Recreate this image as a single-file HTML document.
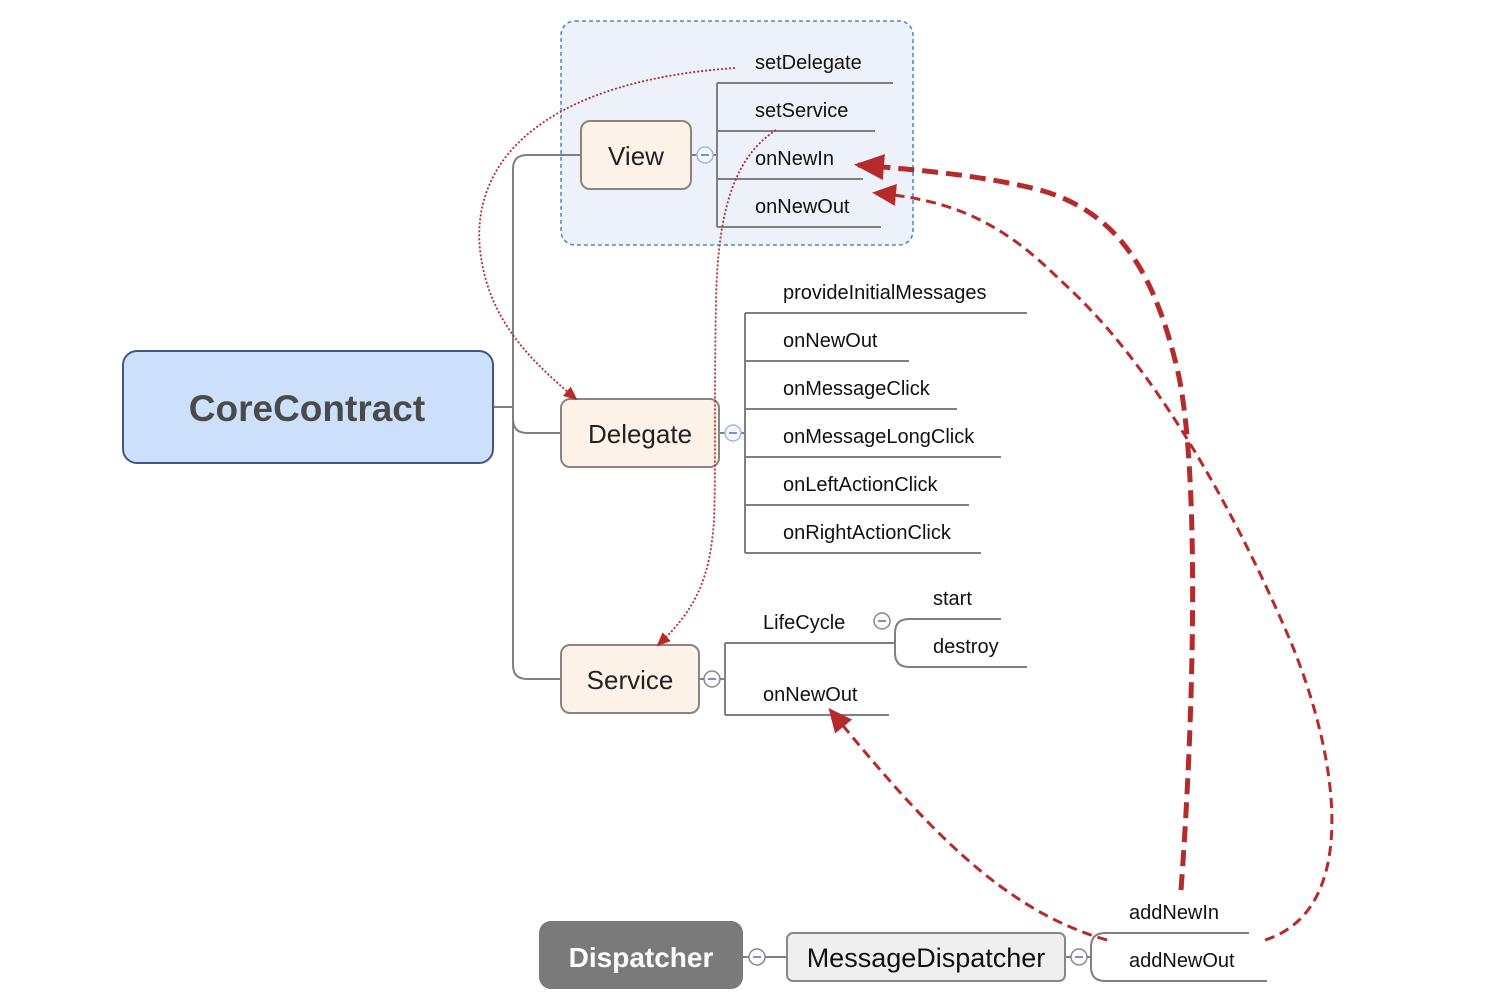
<!DOCTYPE html>
<html><head><meta charset="utf-8"><style>
html,body{margin:0;padding:0;background:#fff;}
svg{display:block;}
text{font-family:"Liberation Sans","DejaVu Sans",sans-serif;fill:#111;}
</style></head><body>
<svg width="1508" height="1008" viewBox="0 0 1508 1008" xmlns="http://www.w3.org/2000/svg">
<defs>
<marker id="ah" markerWidth="14" markerHeight="12" refX="12" refY="6" orient="auto" markerUnits="userSpaceOnUse" viewBox="0 0 14 12"><path d="M0,0 L14,6 L0,12 z" fill="#b52a2a"/></marker>
<marker id="ahb" markerWidth="30" markerHeight="26" refX="26" refY="13" orient="auto" markerUnits="userSpaceOnUse" viewBox="0 0 30 26"><path d="M0,0 L30,13 L0,26 z" fill="#b52a2a"/></marker>
<marker id="ahm" markerWidth="24" markerHeight="22" refX="20" refY="11" orient="auto" markerUnits="userSpaceOnUse" viewBox="0 0 24 22"><path d="M0,0 L24,11 L0,22 z" fill="#b52a2a"/></marker>
</defs>
<rect x="561" y="21" width="352" height="224" rx="14" fill="#edf2fa" stroke="#4a86c8" stroke-width="1.5" stroke-dasharray="4,3"/>
<g fill="none" stroke="#808080" stroke-width="2">
<path d="M493,407 H513"/>
<path d="M581,155 H527 Q513,155 513,169 V665 Q513,679 527,679 H561"/>
<path d="M513,419 Q513,433 527,433 H561"/>
<path d="M691,155 H697"/>
<path d="M713,155 H717"/>
<path d="M717,83 V227"/>
<path d="M717,83 H893 M717,131 H875 M717,179 H863 M717,227 H881"/>
<path d="M719,433 H725 M741,433 H745"/>
<path d="M745,313 V553"/>
<path d="M745,313 H1027 M745,361 H909 M745,409 H957 M745,457 H1001 M745,505 H969 M745,553 H981"/>
<path d="M699,679 H704 M720,679 H725"/>
<path d="M725,643 V715"/>
<path d="M725,643 H895 M725,715 H889"/>
<path d="M895,633 Q895,619 909,619 H1001"/>
<path d="M895,633 V653 Q895,667 909,667 H1027"/>
<path d="M743,957 H749 M765,957 H787"/>
<path d="M1065,957 H1071 M1087,957 H1091"/>
<path d="M1249,933 H1105 Q1091,933 1091,947 V967 Q1091,981 1105,981 H1267"/>
</g>
<g fill="#fff" stroke-width="1.5">
<circle cx="705" cy="155" r="8" stroke="#9db8e6" fill="#f4f7fd"/>
<circle cx="733" cy="433" r="8" stroke="#9db8e6" fill="#f4f7fd"/>
<circle cx="712" cy="679" r="8" stroke="#888"/>
<circle cx="882" cy="621" r="8" stroke="#888"/>
<circle cx="757" cy="957" r="8" stroke="#888"/>
<circle cx="1079" cy="957" r="8" stroke="#888"/>
</g>
<g stroke="#7a8fc4" stroke-width="2">
<path d="M701,155 H709 M729,433 H737 M708,679 H716 M878,621 H886 M753,957 H761 M1075,957 H1083"/>
</g>
<rect x="123" y="351" width="370" height="112" rx="14" fill="#cce0fb" stroke="#3f5783" stroke-width="2"/>
<text x="307" y="421" font-size="37" font-weight="bold" text-anchor="middle" style="fill:#4a4a4a">CoreContract</text>
<rect x="581" y="121" width="110" height="68" rx="9" fill="#fdf2e8" stroke="#8a8580" stroke-width="2"/>
<text x="636" y="165" font-size="26" text-anchor="middle" style="fill:#222">View</text>
<rect x="561" y="399" width="158" height="68" rx="9" fill="#fdf2e8" stroke="#8a8580" stroke-width="2"/>
<text x="640" y="443" font-size="26" text-anchor="middle" style="fill:#222">Delegate</text>
<rect x="561" y="645" width="138" height="68" rx="9" fill="#fdf2e8" stroke="#8a8580" stroke-width="2"/>
<text x="630" y="689" font-size="26" text-anchor="middle" style="fill:#222">Service</text>
<rect x="539" y="921" width="204" height="68" rx="12" fill="#7a7a7a"/>
<text x="641" y="967" font-size="28" font-weight="bold" text-anchor="middle" style="fill:#fff">Dispatcher</text>
<rect x="787" y="933" width="278" height="48" rx="6" fill="#efefef" stroke="#888" stroke-width="2"/>
<text x="926" y="967" font-size="27" text-anchor="middle" style="fill:#111">MessageDispatcher</text>
<g font-size="20">
<text x="755" y="69">setDelegate</text>
<text x="755" y="117">setService</text>
<text x="755" y="165">onNewIn</text>
<text x="755" y="213">onNewOut</text>
<text x="783" y="299">provideInitialMessages</text>
<text x="783" y="347">onNewOut</text>
<text x="783" y="395">onMessageClick</text>
<text x="783" y="443">onMessageLongClick</text>
<text x="783" y="491">onLeftActionClick</text>
<text x="783" y="539">onRightActionClick</text>
<text x="763" y="629">LifeCycle</text>
<text x="763" y="701">onNewOut</text>
<text x="933" y="605">start</text>
<text x="933" y="653">destroy</text>
<text x="1129" y="919">addNewIn</text>
<text x="1129" y="967">addNewOut</text>
</g>
<g fill="none" stroke="#b52a2a">
<path d="M735,68 C560,80 470,150 480,250 C488,320 530,360 576,399" stroke-width="1.8" stroke-dasharray="2,2" marker-end="url(#ah)"/>
<path d="M776,130 C730,160 718,220 716,300 C714,400 716,470 714,520 C710,580 695,610 658,645" stroke-width="1.8" stroke-dasharray="2,2" marker-end="url(#ah)"/>
<path d="M1181,890 C1195,700 1200,450 1175,360 C1150,260 1110,210 1040,190 C980,175 920,170 858,165" stroke-width="5" stroke-dasharray="16,8" marker-end="url(#ahb)"/>
<path d="M1265,940 C1360,910 1340,760 1290,640 C1230,500 1150,360 1060,280 C1000,220 950,200 876,193" stroke-width="3" stroke-dasharray="10,6" marker-end="url(#ahm)"/>
<path d="M1107,940 C1000,910 920,820 831,711" stroke-width="3" stroke-dasharray="10,6" marker-end="url(#ahm)"/>
</g>
</svg>
</body></html>
